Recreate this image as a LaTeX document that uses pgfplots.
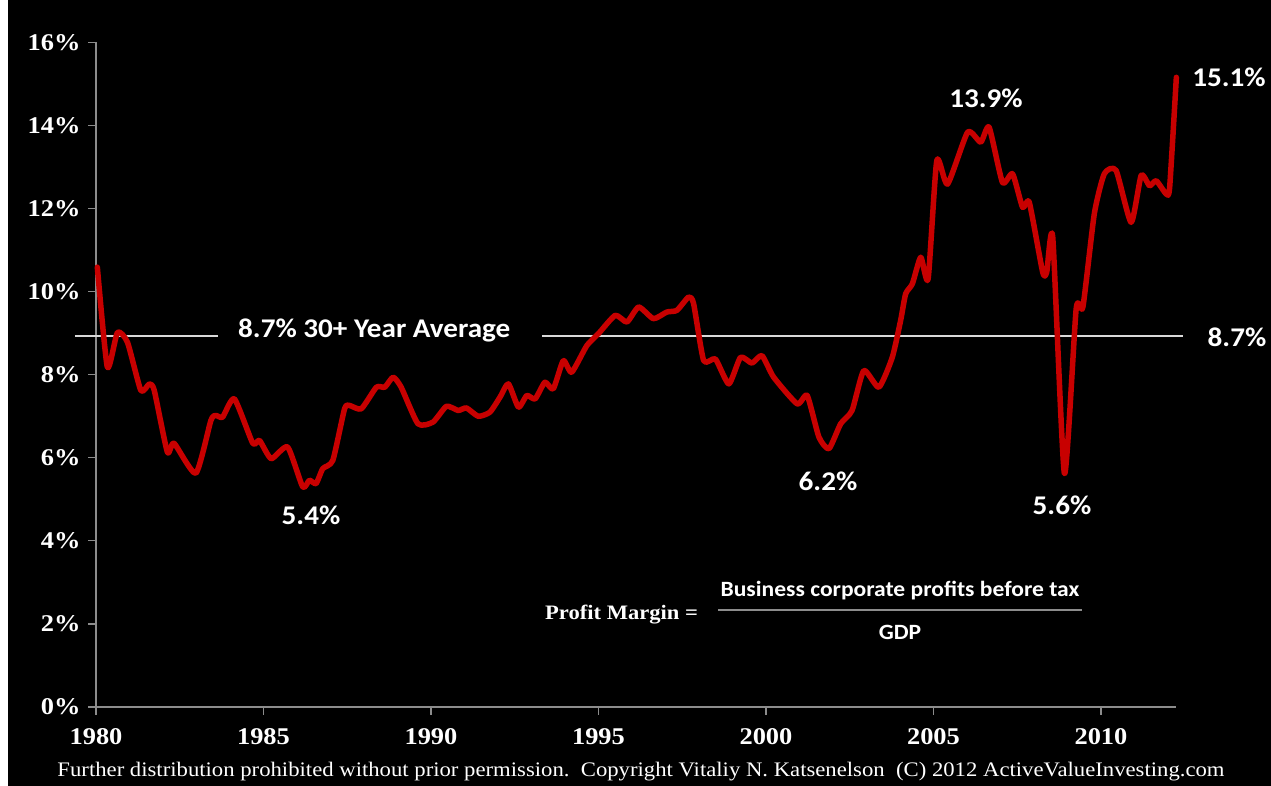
\documentclass[border=0pt]{standalone}
\usepackage{pgfplots}
\pgfplotsset{compat=1.18}
\usepackage{fontspec}
\setmainfont{Liberation Serif}[FakeStretch=1.1]
\newfontfamily\calib{Carlito}[FakeStretch=1.08]
\definecolor{linered}{RGB}{200,0,0}
\definecolor{axgray}{RGB}{140,140,140}

\pgfplotstableread{
year value
1980.04 10.59
1980.34 8.18
1980.64 9.02
1980.94 8.78
1981.34 7.62
1981.59 7.78
1981.74 7.62
1982.13 6.14
1982.33 6.35
1982.98 5.63
1983.43 6.90
1983.58 7.02
1983.78 6.98
1984.13 7.42
1984.68 6.35
1984.88 6.42
1985.23 5.98
1985.72 6.26
1986.17 5.30
1986.37 5.46
1986.57 5.38
1986.77 5.74
1987.07 5.94
1987.42 7.18
1987.57 7.26
1987.92 7.18
1988.37 7.70
1988.62 7.70
1988.87 7.94
1989.11 7.70
1989.61 6.82
1990.06 6.86
1990.46 7.24
1990.81 7.14
1991.06 7.20
1991.41 7.00
1991.76 7.10
1992.06 7.46
1992.31 7.78
1992.61 7.22
1992.86 7.50
1993.11 7.42
1993.40 7.82
1993.65 7.66
1993.95 8.34
1994.20 8.06
1994.65 8.70
1995.00 8.99
1995.50 9.43
1995.85 9.27
1996.20 9.63
1996.64 9.35
1997.04 9.51
1997.34 9.55
1997.69 9.87
1997.84 9.71
1998.14 8.34
1998.49 8.38
1998.89 7.78
1999.24 8.42
1999.58 8.28
1999.88 8.46
2000.23 7.94
2000.93 7.30
2001.23 7.50
2001.58 6.50
2001.88 6.22
2002.23 6.82
2002.57 7.14
2002.92 8.10
2003.37 7.70
2003.77 8.42
2004.02 9.31
2004.17 9.95
2004.37 10.19
2004.62 10.83
2004.84 10.31
2005.10 13.16
2005.42 12.59
2006.02 13.84
2006.41 13.60
2006.66 13.96
2007.06 12.63
2007.36 12.84
2007.66 12.03
2007.86 12.15
2008.26 10.47
2008.38 10.47
2008.56 11.31
2008.91 5.62
2009.26 9.59
2009.46 9.63
2009.80 11.87
2010.10 12.84
2010.45 12.92
2010.90 11.67
2011.20 12.80
2011.45 12.55
2011.65 12.67
2011.95 12.35
2012.05 12.51
2012.25 15.16
}\margins

\begin{document}
\begin{tikzpicture}
\useasboundingbox (0,0) rectangle (1271pt,786pt);
\fill[black] (0,0) rectangle (1271pt,786pt);
\fill[white] (0,0) rectangle (8pt,786pt);
\begin{axis}[
  at={(96pt,79pt)}, anchor=south west,
  width=1080pt, height=664.5pt, scale only axis,
  xmin=1980, xmax=2012.24, ymin=0, ymax=16,
  axis x line*=bottom, axis y line*=left,
  axis line style={color=axgray, line width=1.2pt},
  tick style={color=axgray, line width=1.2pt},
  tick align=outside, major tick length=8pt,
  xtick={1980,1985,...,2010}, ytick={0,2,...,16},
  minor tick num=0,
  /pgf/number format/1000 sep={},
  /pgf/number format/assume math mode=true,
  yticklabel={\pgfmathprintnumber{\tick}\%},
  ticklabel style={text=white, font=\bfseries\fontsize{24}{24}\selectfont},
  xticklabel style={yshift=-10pt},
  yticklabel style={xshift=-4pt},
  clip=false,
]
\addplot[white!85!black, line width=1.6pt] coordinates {(1979.37,8.94) (1983.64,8.94)};
\addplot[white!85!black, line width=1.6pt] coordinates {(1993.31,8.94) (2012.45,8.94)};
\addplot[linered, line width=5.5pt, smooth, tension=0.35, line join=round, line cap=round] table[x=year, y=value] {\margins};
\end{axis}
\begin{scope}[every node/.style={text=white, inner sep=0pt}]
\node[anchor=base west, font=\calib\bfseries\fontsize{27}{27}\selectfont] at (238pt,448pt) {8.7\% 30+ Year Average};
\node[anchor=base, font=\calib\bfseries\fontsize{27}{27}\selectfont] at (311pt,261pt) {5.4\%};
\node[anchor=base, font=\calib\bfseries\fontsize{27}{27}\selectfont] at (828pt,295pt) {6.2\%};
\node[anchor=base, font=\calib\bfseries\fontsize{27}{27}\selectfont] at (986pt,678pt) {13.9\%};
\node[anchor=base, font=\calib\bfseries\fontsize{27}{27}\selectfont] at (1062pt,271pt) {5.6\%};
\node[anchor=base, font=\calib\bfseries\fontsize{27}{27}\selectfont] at (1229pt,699pt) {15.1\%};
\node[anchor=base, font=\calib\bfseries\fontsize{27}{27}\selectfont] at (1237pt,439pt) {8.7\%};
\node[anchor=base west, font=\bfseries\fontsize{20.5}{20.5}\selectfont] at (545pt,166pt) {Profit Margin =};
\node[anchor=base, font=\calib\bfseries\fontsize{21.8}{21.8}\selectfont] at (900pt,189pt) {Business corporate profits before tax};
\draw[axgray, line width=1.2pt] (718pt,176pt) -- (1082pt,176pt);
\node[anchor=base, font=\calib\bfseries\fontsize{21.8}{21.8}\selectfont] at (900pt,146pt) {GDP};
\node[anchor=base, font=\fontsize{20}{20}\selectfont] at (641pt,9pt) {\resizebox{1167pt}{!}{Further distribution prohibited without prior permission.\ \ Copyright Vitaliy N. Katsenelson\ \ (C) 2012 ActiveValueInvesting.com}};
\end{scope}
\end{tikzpicture}
\end{document}
